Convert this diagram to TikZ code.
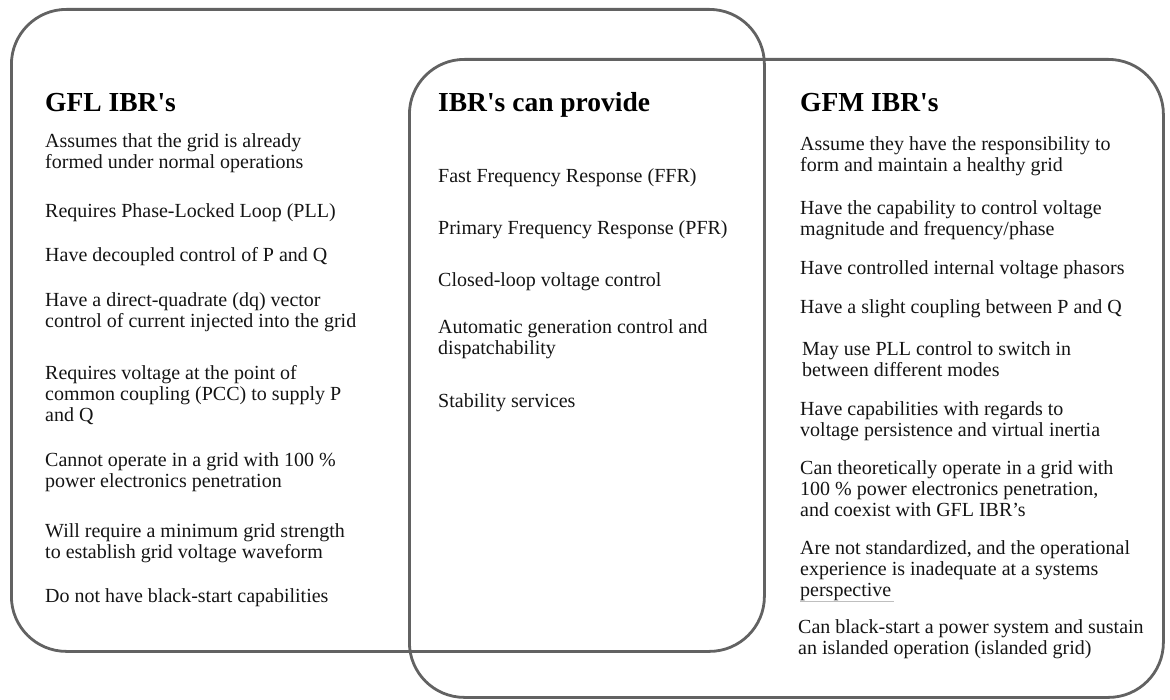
\documentclass[tikz,border=0pt]{standalone}
\usepackage{fontspec}
\newfontfamily\lib{Liberation Serif}
\begin{document}
\begin{tikzpicture}[x=1pt,y=-1pt,
  box/.style={draw=boxgray, line width=2.8pt, rounded corners=55pt, anchor=north west, inner sep=0pt},
  txt/.style={font=\lib\fontsize{20}{21}\selectfont, anchor=base west, inner sep=0pt, align=left, text=black!92},
  ttl/.style={font=\lib\bfseries\fontsize{27.5}{30}\selectfont, anchor=base west, inner sep=0pt, text=black}]
\definecolor{boxgray}{HTML}{626262}
\useasboundingbox (0,0) rectangle (1170,700);
% boxes
\node[box, minimum width=753pt, minimum height=642pt] (gflbox) at (10,8) {};
\node[box, minimum width=754pt, minimum height=638pt] (gfmbox) at (408,58) {};
% left column (anchor = baseline of the last line)
\node[ttl] (l0) at (45,112) {GFL IBR's};
\node[txt] (l1) at (45,169) {Assumes that the grid is already\\formed under normal operations};
\node[txt] (l2) at (45,218) {Requires Phase-Locked Loop (PLL)};
\node[txt] (l3) at (45,262) {Have decoupled control of P and Q};
\node[txt] (l4) at (45,328) {Have a direct-quadrate (dq) vector\\control of current injected into the grid};
\node[txt] (l5) at (45,421) {Requires voltage at the point of\\common coupling (PCC) to supply P\\and Q};
\node[txt] (l6) at (45,487) {Cannot operate in a grid with 100 \%\\power electronics penetration};
\node[txt] (l7) at (45,558) {Will require a minimum grid strength\\to establish grid voltage waveform};
\node[txt] (l8) at (45,602) {Do not have black-start capabilities};
% middle column
\node[ttl] (m0) at (438,112) {IBR's can provide};
\node[txt] (m1) at (438,183) {Fast Frequency Response (FFR)};
\node[txt] (m2) at (438,235) {Primary Frequency Response (PFR)};
\node[txt] (m3) at (438,287) {Closed-loop voltage control};
\node[txt] (m4) at (438,355) {Automatic generation control and\\dispatchability};
\node[txt] (m5) at (438,408) {Stability services};
% right column
\node[ttl] (r0) at (800,112) {GFM IBR's};
\node[txt] (r1) at (800,172) {Assume they have the responsibility to\\form and maintain a healthy grid};
\node[txt] (r2) at (800,236) {Have the capability to control voltage\\magnitude and frequency/phase};
\node[txt] (r3) at (800,275) {Have controlled internal voltage phasors};
\node[txt] (r4) at (800,314) {Have a slight coupling between P and Q};
\node[txt] (r5) at (802,377) {May use PLL control to switch in\\between different modes};
\node[txt] (r6) at (800,436) {Have capabilities with regards to\\voltage persistence and virtual inertia};
\node[txt] (r7) at (800,516) {Can theoretically operate in a grid with\\100 \% power electronics penetration,\\and coexist with GFL IBR’s};
\node[txt] (r8) at (800,596) {Are not standardized, and the operational\\experience is inadequate at a systems\\perspective};
\node[txt] (r9) at (798,654) {Can black-start a power system and sustain\\an islanded operation (islanded grid)};
\draw[black!25, line width=1pt] (r8.south west) ++(0,1) coordinate (ul1) -- ++(94,0) coordinate (ul2);
\end{tikzpicture}
\end{document}
